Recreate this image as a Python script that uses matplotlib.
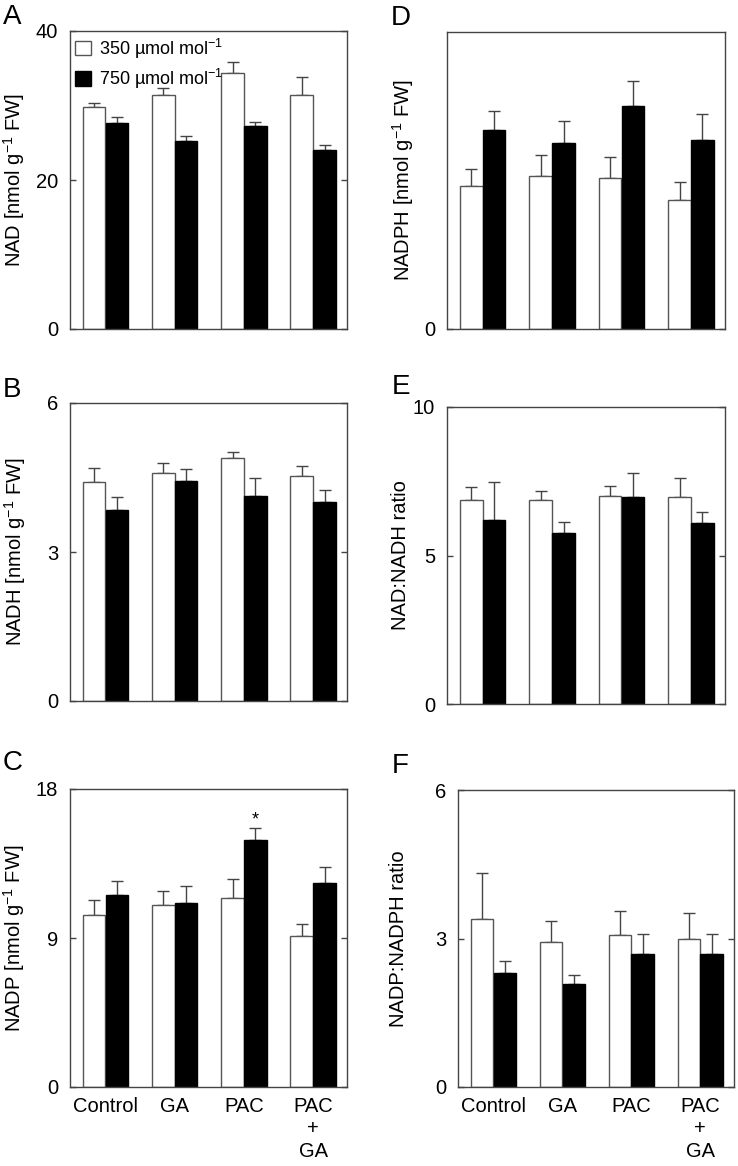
import numpy as np
import matplotlib
matplotlib.use("Agg")
import matplotlib.pyplot as plt

plt.rcParams['font.family'] = ['Liberation Sans', 'DejaVu Sans']
plt.rcParams['mathtext.fontset'] = 'custom'
plt.rcParams['mathtext.rm'] = 'Liberation Sans'
plt.rcParams['mathtext.it'] = 'Liberation Sans:italic'

# ── Data ──
TREATMENTS = ["Control", "GA", "PAC", "PAC\n+\nGA"]
SERIES = ["350 µmol mol$^{-1}$", "750 µmol mol$^{-1}$"]

nad_350 = [29.8, 31.4, 34.4, 31.4]
nad_350_se = [0.6, 1.0, 1.5, 2.4]
nad_750 = [27.6, 25.2, 27.2, 24.0]
nad_750_se = [0.85, 0.7, 0.6, 0.7]

nadh_350 = [4.41, 4.59, 4.89, 4.54]
nadh_350_se = [0.29, 0.20, 0.13, 0.19]
nadh_750 = [3.84, 4.43, 4.12, 4.00]
nadh_750_se = [0.26, 0.25, 0.37, 0.25]

nadp_350 = [10.4, 11.0, 11.4, 9.1]
nadp_350_se = [0.91, 0.82, 1.15, 0.73]
nadp_750 = [11.6, 11.1, 14.9, 12.3]
nadp_750_se = [0.83, 1.07, 0.75, 0.99]

# NADPH panel has no scale printed besides 0 -> arbitrary units, ylim 0-2
nadph_350 = [0.96, 1.03, 1.02, 0.87]
nadph_350_se = [0.12, 0.14, 0.14, 0.12]
nadph_750 = [1.34, 1.25, 1.50, 1.27]
nadph_750_se = [0.13, 0.15, 0.17, 0.18]

nad_ratio_350 = [6.86, 6.86, 7.01, 6.97]
nad_ratio_350_se = [0.45, 0.32, 0.32, 0.64]
nad_ratio_750 = [6.18, 5.76, 6.96, 6.10]
nad_ratio_750_se = [1.30, 0.37, 0.83, 0.37]

nadp_ratio_350 = [3.40, 2.93, 3.07, 2.99]
nadp_ratio_350_se = [0.93, 0.43, 0.48, 0.53]
nadp_ratio_750 = [2.31, 2.08, 2.69, 2.69]
nadp_ratio_750_se = [0.24, 0.19, 0.40, 0.40]

W, H = 738, 1166

# panel: letter, pixel box (x0, y0, x1, y1), ylim, yticks, ylabel, label x (axes frac), data
PANELS = [
    ("A", (70, 31, 347, 329), 40, [0, 20, 40], "NAD [nmol g$^{-1}$ FW]", -0.155,
     nad_350, nad_350_se, nad_750, nad_750_se),
    ("B", (70, 403, 347, 701), 6, [0, 3, 6], "NADH [nmol g$^{-1}$ FW]", -0.152,
     nadh_350, nadh_350_se, nadh_750, nadh_750_se),
    ("C", (70, 789, 347, 1087), 18, [0, 9, 18], "NADP [nmol g$^{-1}$ FW]", -0.155,
     nadp_350, nadp_350_se, nadp_750, nadp_750_se),
    ("D", (447, 32, 725, 329), 2, [0], "NADPH [nmol g$^{-1}$ FW]", -0.11,
     nadph_350, nadph_350_se, nadph_750, nadph_750_se),
    ("E", (447, 407, 725, 704), 10, [0, 5, 10], "NAD:NADH ratio", -0.133,
     nad_ratio_350, nad_ratio_350_se, nad_ratio_750, nad_ratio_750_se),
    ("F", (458, 790, 734, 1087), 6, [0, 3, 6], "NADP:NADPH ratio", -0.18,
     nadp_ratio_350, nadp_ratio_350_se, nadp_ratio_750, nadp_ratio_750_se),
]
LETTER_POS = {"A": (3, 4), "B": (3, 377), "C": (3, 750), "D": (391, 5), "E": (392, 374), "F": (392, 753)}

fig = plt.figure(figsize=(W / 100, H / 100), dpi=100)
x = np.arange(len(TREATMENTS))
bw = 0.325

for letter, (x0, y0, x1, y1), ymax, yt, ylab, lx, w, wse, b, bse in PANELS:
    ax = fig.add_axes([x0 / W, 1 - y1 / H, (x1 - x0) / W, (y1 - y0) / H])
    ax.bar(x - 0.165, w, bw, color="white", edgecolor="#555555", linewidth=1, label=SERIES[0], zorder=2)
    ax.bar(x + 0.165, b, bw, color="black", edgecolor="black", linewidth=1, label=SERIES[1], zorder=2)
    ax.errorbar(x - 0.165, w, yerr=[np.zeros(4), wse], fmt="none", ecolor="#444444",
                elinewidth=1, capsize=4.2, capthick=1, zorder=1)
    ax.errorbar(x + 0.165, b, yerr=[np.zeros(4), bse], fmt="none", ecolor="#444444",
                elinewidth=1, capsize=4.2, capthick=1, zorder=1)
    ax.set_xlim(-0.515, 3.49)
    ax.set_ylim(0, ymax)
    ax.set_yticks(yt)
    ax.tick_params(axis="y", direction="in", length=4, width=1, color="#444444",
                   labelsize=14.5, pad=8.5, right=True)
    ax.tick_params(axis="x", length=0, labelsize=14.5, pad=7)
    if letter in ("C", "F"):
        ax.set_xticks(x)
        ax.set_xticklabels(TREATMENTS, linespacing=1.25, va="top")
    else:
        ax.set_xticks([])
    for s in ax.spines.values():
        s.set_color("#444444")
        s.set_linewidth(1)
    ax.set_ylabel(ylab, fontsize=14.5)
    ax.yaxis.set_label_coords(lx, 0.5)
    fig.text(LETTER_POS[letter][0] / W, 1 - LETTER_POS[letter][1] / H, letter,
             fontsize=20, ha="left", va="top")
    if letter == "A":
        ax.legend(loc="upper left", frameon=False, fontsize=13, handlelength=0.85,
                  handleheight=0.85, handletextpad=0.45, labelspacing=0.35,
                  borderaxespad=0.1, borderpad=0.2)
    if letter == "C":
        ax.text(x[2] + 0.165, b[2] + bse[2] - 0.05, "*", ha="center", va="bottom", fontsize=13)

fig.savefig("out.png", dpi=100)
